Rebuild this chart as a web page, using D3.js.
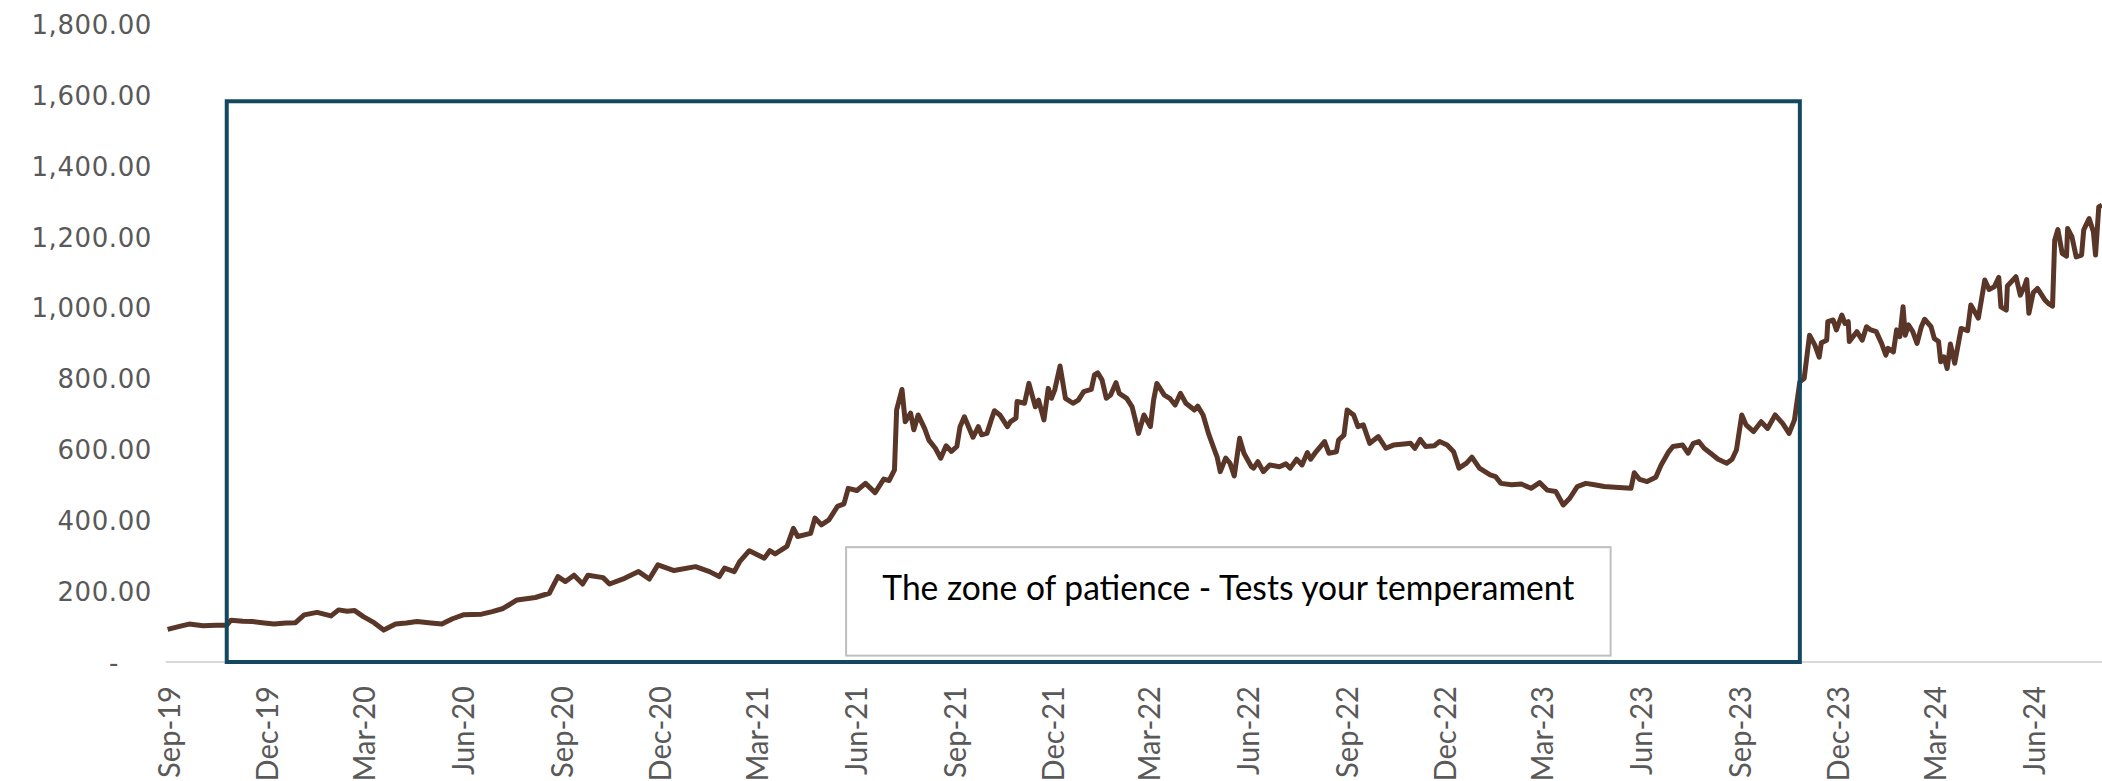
<!DOCTYPE html>
<html>
<head>
<meta charset="utf-8">
<script src="https://cdn.jsdelivr.net/npm/d3@7"></script>
<style>
  html, body { margin: 0; padding: 0; background: #ffffff; }
  svg { display: block; }
</style>
</head>
<body>
<svg id="chart" width="2102" height="781"></svg>
<script>
// ---------------- DATA ----------------
const START_DATE = "2019-09-01";
// days elapsed since START_DATE
const dayOffsets = [
  0,13,20,33,45,55,59,70,79,90,99,110,119,127,139,152,159,167,174,182,192,201,212,222,232,245,255,265,275,292,302,312,325,342,355,363,370,378,386,391,405,411,425,438,448,456,471,491,504,
  513,518,527,532,541,555,560,565,576,582,586,598,602,608,615,623,629,633,641,649,658,666,671,676,678,683,686,691,694,698,704,708,714,719,724,729,734,737,741,749,754,757,762,766,769,774,781,784,789,790,797,801,807,810,815,819,822,825,830,835,842,847,852,859,862,865,869,873,877,882,885,892,897,900,903,908,914,917,920,927,932,937,942,947,955,958,963,968,973,976,979,984,988,992,997,1001,1008,
  1010,1014,1019,1025,1034,1040,1044,1050,1055,1060,1063,1068,1076,1080,1087,1089,1094,1097,1103,1107,1112,1118,1126,1133,1140,1150,1156,1160,1165,1170,1178,1183,1190,1196,1201,1208,1213,1220,1230,1235,1240,1250,1259,1268,1276,1283,1291,1298,1304,1311,1319,1327,1336,1346,1361,1364,1369,1376,1384,1389,1396,1400,1409,1414,1419,1424,1429,1435,1442,1450,1455,1459,1464,1468,1475,1482,1488,1495,1502,1508,1513,
  1518,1522,1527,1532,1536,1538,1543,1544,1549,1552,1557,1560,1563,1564,1571,1576,1580,1584,1589,1594,1598,1600,1605,1608,1611,1614,1616,1619,1623,1627,1631,1634,1640,1643,1647,1649,1652,1655,1658,1662,1668,1674,1677,1684,1690,1694,1699,1703,1705,1710,1711,1719,1723,1727,1729,1731,1735,1739,1746,1749,1753,1755,1758,1762,1766,1767,1771,1775,1780,1782,1787,1791,1793,1796,1799
];
const prices = [
  92,102,107,102,104,104,118,115,114,110,107,110,111,133,140,130,147,143,145,128,111,90,107,110,114,110,107,122,133,135,142,151,175,182,194,241,227,245,220,245,238,220,236,255,234,274,258,269,255,
  241,265,255,283,314,293,314,305,326,377,354,363,406,387,401,439,446,490,484,504,478,516,512,542,711,769,678,702,655,697,659,626,603,575,610,594,608,664,692,634,664,641,645,683,709,697,664,678,688,735,730,786,720,739,683,772,744,767,835,744,730,739,763,769,810,816,796,744,753,788,758,744,720,683,645,697,664,739,786,753,744,725,758,730,711,722,697,645,603,579,537,575,561,525,631,589,551,
  547,565,537,556,551,559,547,572,556,591,572,593,622,589,593,626,640,711,697,664,669,617,636,603,612,615,617,603,628,608,610,622,612,593,547,561,578,547,528,523,504,500,502,490,506,485,481,443,462,495,504,500,495,493,490,534,515,509,521,556,593,608,612,589,617,622,603,589,572,561,572,598,697,669,650,678,659,697,673,645,683,
  791,800,922,894,860,901,908,960,965,937,979,955,960,904,932,908,946,937,932,899,866,885,875,937,918,1002,922,951,932,899,946,967,946,913,904,847,861,828,897,843,941,935,1007,970,1078,1051,1059,1085,1002,993,1061,1087,1035,1061,1079,984,1042,1054,1021,1012,1004,1190,1220,1153,1145,1223,1200,1143,1148,1219,1251,1214,1148,1284,1289
];
const xTickLabels = ["Sep-19","Dec-19","Mar-20","Jun-20","Sep-20","Dec-20","Mar-21","Jun-21","Sep-21","Dec-21","Mar-22","Jun-22","Sep-22","Dec-22","Mar-23","Jun-23","Sep-23","Dec-23","Mar-24","Jun-24"];
const yTickValues = [0,200,400,600,800,1000,1200,1400,1600,1800];

// annotations
const zoneStart = "2019-10-26";
const zoneEnd = "2023-10-28";
const zoneTop = 1582;
const noteStart = "2021-05-24";
const noteEnd = "2023-05-05";
const noteTop = 324;
const noteBottom = 18;
const noteText = "The zone of patience - Tests your temperament";

// ---------------- CHART ----------------
const svg = d3.select("#chart");
const parseISO = d3.timeParse("%Y-%m-%d");
const parseTick = d3.timeParse("%b-%y");
const start = parseISO(START_DATE);
const series = dayOffsets.map((d, i) => ({ date: d3.timeDay.offset(start, d), value: prices[i] }));

const x = d3.scaleTime()
  .domain([start, d3.timeDay.offset(start, 1799)])
  .range([167.6, 2102]);
const y = d3.scaleLinear().domain([0, 1800]).range([662, 24]);

svg.append("rect").attr("width", 2102).attr("height", 781).attr("fill", "#ffffff");

// baseline gridline
svg.append("line")
  .attr("x1", x(start) - 2).attr("x2", 2102)
  .attr("y1", y(0)).attr("y2", y(0))
  .attr("stroke", "#d9d9d9").attr("stroke-width", 2);

// y axis labels
const fmt = d3.format(",.2f");
const yAxis = d3.axisLeft(y).tickValues(yTickValues).tickSize(0)
  .tickFormat(d => d === 0 ? "-" : fmt(d));
const gy = svg.append("g").attr("transform", "translate(152,0)").call(yAxis);
gy.select(".domain").remove();
gy.selectAll("text")
  .attr("x", 0)
  .attr("dx", d => d === 0 ? -33 : 0)
  .attr("dy", "0.36em")
  .style("font-family", "'DejaVu Sans', sans-serif")
  .style("font-size", "26px")
  .style("letter-spacing", "0.6px")
  .attr("fill", "#595959");

// x axis labels
const xAxis = d3.axisBottom(x)
  .tickValues(xTickLabels.map(parseTick))
  .tickSize(0)
  .tickFormat(d3.timeFormat("%b-%y"));
const gx = svg.append("g").attr("transform", "translate(0,686)").call(xAxis);
gx.select(".domain").remove();
gx.selectAll("text")
  .attr("y", 0).attr("dy", 0)
  .attr("transform", "rotate(-90) scale(0.97,1)")
  .attr("text-anchor", "end")
  .attr("dominant-baseline", "central")
  .style("font-family", "Lato, sans-serif")
  .style("font-size", "30px")
  .attr("fill", "#595959");

// price line
const line = d3.line().x(d => x(d.date)).y(d => y(d.value));
svg.append("path")
  .datum(series)
  .attr("fill", "none")
  .attr("stroke", "#5a3628")
  .attr("stroke-width", 5)
  .attr("stroke-linejoin", "round")
  .attr("d", line);

// zone rectangle
svg.append("rect")
  .attr("x", x(parseISO(zoneStart)))
  .attr("y", y(zoneTop))
  .attr("width", x(parseISO(zoneEnd)) - x(parseISO(zoneStart)))
  .attr("height", y(0) - y(zoneTop))
  .attr("fill", "none")
  .attr("stroke", "#144760")
  .attr("stroke-width", 4);

// note box
const nx0 = x(parseISO(noteStart)), nx1 = x(parseISO(noteEnd));
svg.append("rect")
  .attr("x", nx0).attr("y", y(noteTop))
  .attr("width", nx1 - nx0).attr("height", y(noteBottom) - y(noteTop))
  .attr("fill", "#ffffff")
  .attr("stroke", "#bfbfbf").attr("stroke-width", 2);
svg.append("text")
  .attr("x", (nx0 + nx1) / 2)
  .attr("y", y(noteTop) + 39)
  .attr("text-anchor", "middle")
  .attr("dominant-baseline", "central")
  .attr("textLength", 692)
  .attr("lengthAdjust", "spacingAndGlyphs")
  .style("font-family", "Lato, sans-serif")
  .style("font-size", "34px")
  .attr("fill", "#000000")
  .text(noteText);
</script>
</body>
</html>
